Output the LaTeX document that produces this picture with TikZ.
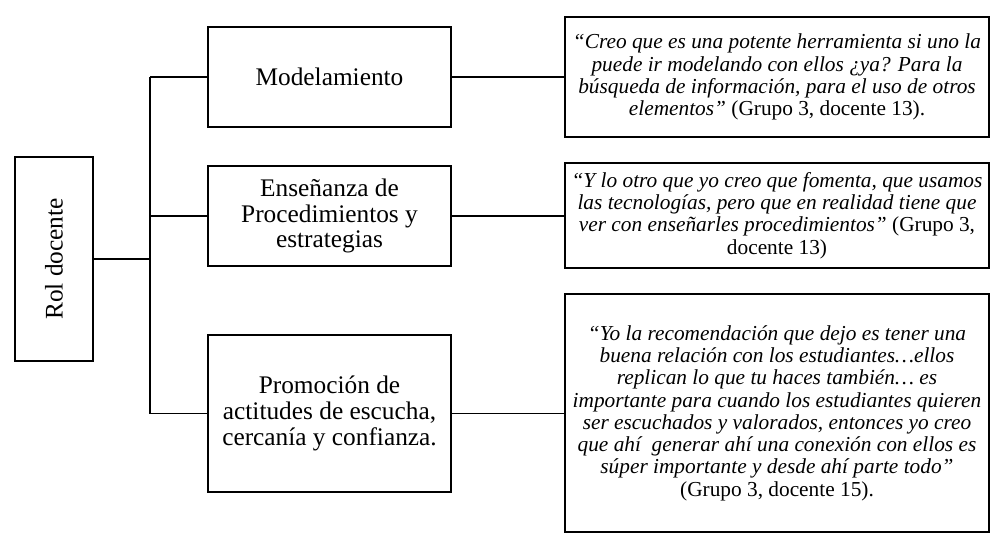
\documentclass[tikz,border=0pt]{standalone}
\usepackage{fontspec}
\setmainfont{Liberation Serif}
\usetikzlibrary{positioning}

\tikzset{
  tema/.style={draw, line width=1pt, align=center, inner sep=0pt,
    minimum width=182.25pt, font=\fontsize{19}{19.4}\selectfont},
  cita/.style={draw, line width=1pt, align=center, inner sep=0pt,
    minimum width=318pt, font=\fontsize{16}{16.7}\selectfont},
  rama/.style={line width=1pt}
}

\begin{document}
\begin{tikzpicture}[x=0.75pt,y=-0.75pt]
\useasboundingbox (0,0) rectangle (1005,550);
\node[tema, rotate=90, minimum width=153pt, minimum height=58.5pt] (rol) at (54,259) {Rol docente};
\node[tema, minimum height=75pt] (model) at (329.5,77) {Modelamiento};
\node[tema, minimum height=75pt] (ense) at (329.5,216) {Enseñanza de\\Procedimientos y\\estrategias};
\node[tema, minimum height=117.75pt] (promo) at (329.5,413.5) {Promoción de\\actitudes de escucha,\\cercanía y confianza.};
\node[cita, minimum height=90pt] (cita1) at (777,77) {\textit{“Creo que es una potente herramienta si uno la}\\\textit{puede ir modelando con ellos ¿ya? Para la}\\\textit{búsqueda de información, para el uso de otros}\\\textit{elementos”} (Grupo 3, docente 13).};
\node[cita, minimum height=78.75pt] (cita2) at (777,215.5) {\textit{“Y lo otro que yo creo que fomenta, que usamos}\\\textit{las tecnologías, pero que en realidad tiene que}\\\textit{ver con enseñarles procedimientos”} (Grupo 3,\\docente 13)};
\node[cita, minimum height=178.5pt] (cita3) at (777,413) {\textit{“Yo la recomendación que dejo es tener una}\\\textit{buena relación con los estudiantes…ellos}\\\textit{replican lo que tu haces también… es}\\\textit{importante para cuando los estudiantes quieren}\\\textit{ser escuchados y valorados, entonces yo creo}\\\textit{que ahí \ generar ahí una conexión con ellos es}\\\textit{súper importante y desde ahí parte todo”}\\(Grupo 3, docente 15).};
\coordinate (tronco) at (150,259);
\draw[line width=1.5pt] (rol.south) -- (tronco);
\draw[rama] (tronco |- model.west) -- (tronco |- promo.west);
\draw[rama] (tronco |- model.west) -- (model.west);
\draw[rama] (tronco |- ense.west) -- (ense.west);
\draw[rama] (tronco |- promo.west) -- (promo.west);
\draw[rama] (model.east) -- (cita1.west |- model.east);
\draw[rama] (ense.east) -- (cita2.west |- ense.east);
\draw[rama] (promo.east) -- (cita3.west |- promo.east);
\end{tikzpicture}
\end{document}
